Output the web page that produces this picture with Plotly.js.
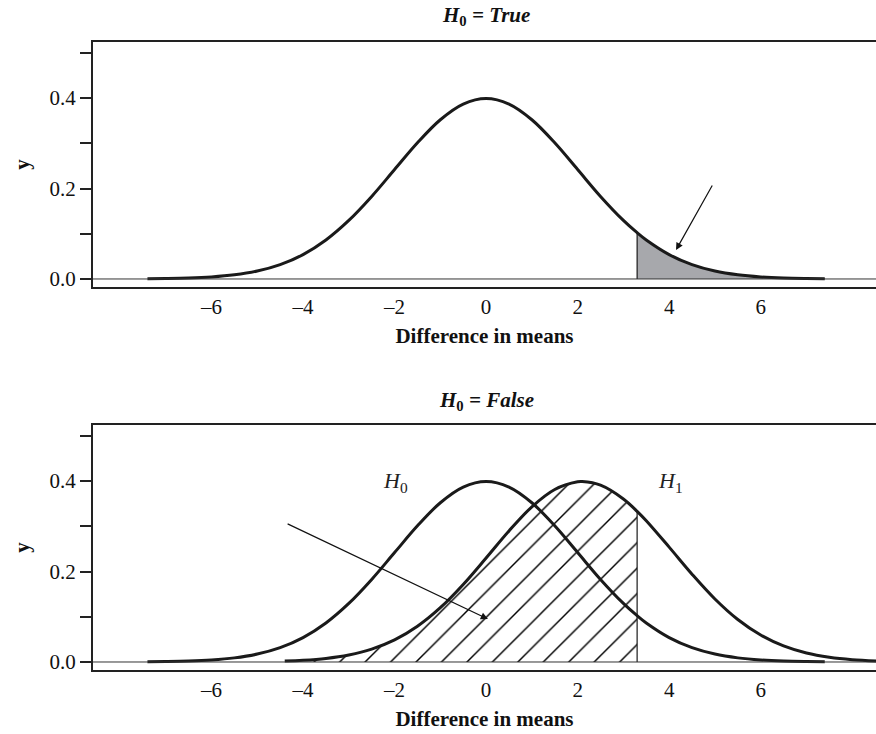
<!DOCTYPE html>
<html>
<head>
<meta charset="utf-8">
<script src="https://cdn.plot.ly/plotly-3.0.1.min.js"></script>
<style>html,body{margin:0;padding:0;background:#fff;}#chart{width:876px;height:734px;}</style>
</head>
<body>
<div id="chart"></div>
<script>
// Null distribution (H0) curve
const xH0 = [-7.4,-7,-6.5,-6,-5.5,-5,-4.5,-4,-3.5,-3,-2.5,-2,-1.5,-1,-0.5,0,0.5,1,1.5,2,2.5,3,3.3,3.5,4,4.5,5,5.5,6,6.5,7,7.4];
const yH0 = [0.0004,0.0009,0.002,0.0044,0.0091,0.0175,0.0317,0.054,0.0863,0.1295,0.1826,0.242,0.3011,0.3521,0.3867,0.3989,0.3867,0.3521,0.3011,0.242,0.1826,0.1295,0.1023,0.0863,0.054,0.0317,0.0175,0.0091,0.0044,0.002,0.0009,0.0004];
// Alternative distribution (H1) curve
const xH1 = [-4.4,-4,-3.5,-3,-2.5,-2,-1.5,-1,-0.5,0,0.5,1,1.5,2,2.1,2.5,3,3.3,3.5,4,4.5,5,5.5,6,6.5,7,7.5,8,8.6];
const yH1 = [0.002,0.0038,0.0079,0.0155,0.0283,0.0488,0.079,0.12,0.1714,0.2299,0.2897,0.343,0.3814,0.3984,0.3989,0.391,0.3605,0.3332,0.3123,0.254,0.1942,0.1394,0.094,0.0596,0.0355,0.0198,0.0104,0.0051,0.002];
const critical = 3.3;
const xTickVals = [-6,-4,-2,0,2,4,6];
const xTickText = ['\u20136','\u20134','\u20132','0','2','4','6'];
const yTickVals = [0,0.1,0.2,0.3,0.4,0.5];
const yTickText = ['0.0','','0.2','','0.4',''];

const FONT = 'Liberation Serif';
const INK = '#1a1a1a';

// shaded tail (top) and hatched region (bottom)
const tailX = [], tailY = [];
xH0.forEach((x,i)=>{ if (x >= critical) { tailX.push(x); tailY.push(yH0[i]); } });
const betaX = [], betaY = [];
xH1.forEach((x,i)=>{ if (x <= critical) { betaX.push(x); betaY.push(yH1[i]); } });
const h1AtCrit = yH1[xH1.indexOf(critical)];

const traces = [
  {x: tailX, y: tailY, xaxis:'x', yaxis:'y', mode:'lines', line:{color:INK, width:1, shape:'spline'}, fill:'tozeroy', fillcolor:'#a7a8ac', hoverinfo:'skip'},
  {x: [critical, critical], y: [0, tailY[0]], xaxis:'x', yaxis:'y', mode:'lines', line:{color:INK, width:1.2}, hoverinfo:'skip'},
  {x: xH0, y: yH0, xaxis:'x', yaxis:'y', mode:'lines', line:{color:INK, width:3, shape:'spline'}, hoverinfo:'skip'},

  {x: betaX, y: betaY, xaxis:'x2', yaxis:'y2', mode:'lines', line:{color:'rgba(0,0,0,0)', width:0, shape:'spline'}, fill:'tozeroy', fillcolor:'rgba(0,0,0,0)',
   fillpattern:{shape:'/', size:18, solidity:0.08, fgcolor:'#000', bgcolor:'rgba(0,0,0,0)'}, hoverinfo:'skip'},
  {x: [critical, critical], y: [0, h1AtCrit], xaxis:'x2', yaxis:'y2', mode:'lines', line:{color:INK, width:1.2}, hoverinfo:'skip'},
  {x: xH0, y: yH0, xaxis:'x2', yaxis:'y2', mode:'lines', line:{color:INK, width:3, shape:'spline'}, hoverinfo:'skip'},
  {x: xH1, y: yH1, xaxis:'x2', yaxis:'y2', mode:'lines', line:{color:INK, width:3, shape:'spline'}, hoverinfo:'skip'}
];

function xax(anchor) {
  return {
    anchor: anchor, range: [-8.59, 8.52], showgrid:false, zeroline:false,
    showline:true, linecolor:'#222', linewidth:2, mirror:true,
    ticks:'', tickvals:xTickVals, ticktext:xTickText,
    ticklabelstandoff: 0,
    tickfont:{family:FONT, size:21, color:'#111'},
    title:{text:'<b>Difference in means</b>', font:{family:FONT, size:21, color:'#111'}, standoff:10}
  };
}
function yax(anchor, domain) {
  return {
    anchor: anchor, domain: domain, range:[-0.0177, 0.524], showgrid:false, zeroline:false,
    showline:true, linecolor:'#222', linewidth:2, mirror:false,
    ticks:'outside', ticklen:11, tickwidth:2, tickcolor:'#222',
    tickvals:yTickVals, ticktext:yTickText,
    tickfont:{family:FONT, size:21, color:'#111'},
    title:{text:'<b>y</b>', font:{family:FONT, size:21, color:'#111'}, standoff:14}
  };
}

const layout = {
  width: 876, height: 734,
  margin: {l:93, r:0, t:42, b:64},
  paper_bgcolor:'#fff', plot_bgcolor:'#fff',
  showlegend:false,
  xaxis: xax('y'), yaxis: yax('x', [0.6099, 1]),
  xaxis2: xax('y2'), yaxis2: yax('x2', [0, 0.3901]),
  shapes: [
    {type:'line', xref:'x domain', yref:'y', x0:0, x1:1, y0:0, y1:0, line:{color:'#333', width:1}},
    {type:'line', xref:'x2 domain', yref:'y2', x0:0, x1:1, y0:0, y1:0, line:{color:'#333', width:1}}
  ],
  annotations: [
    {xref:'x', yref:'paper', x:0, y:1.042, yanchor:'middle', text:'<b><i>H</i><sub>0</sub><i> = True</i></b>', showarrow:false, font:{family:FONT, size:21, color:'#111'}},
    {xref:'x2', yref:'paper', x:0, y:0.428, yanchor:'middle', text:'<b><i>H</i><sub>0</sub><i> = False</i></b>', showarrow:false, font:{family:FONT, size:21, color:'#111'}},
    {xref:'x', yref:'y', x:4.15, y:0.064, axref:'x', ayref:'y', ax:4.96, ay:0.21, showarrow:true, arrowhead:2, arrowsize:1.2, arrowwidth:1.2, arrowcolor:'#111', text:''},
    {xref:'x2', yref:'y2', x:0.04, y:0.095, axref:'x2', ayref:'y2', ax:-4.37, ay:0.307, showarrow:true, arrowhead:2, arrowsize:1.2, arrowwidth:1.2, arrowcolor:'#111', text:''},
    {xref:'x2', yref:'y2', x:-1.97, y:0.398, text:'<i>H</i><sub>0</sub>', showarrow:false, font:{family:FONT, size:22, color:'#222'}},
    {xref:'x2', yref:'y2', x:4.02, y:0.398, text:'<i>H</i><sub>1</sub>', showarrow:false, font:{family:FONT, size:22, color:'#222'}}
  ]
};

Plotly.newPlot('chart', traces, layout, {displayModeBar:false, staticPlot:true});
</script>
</body>
</html>
